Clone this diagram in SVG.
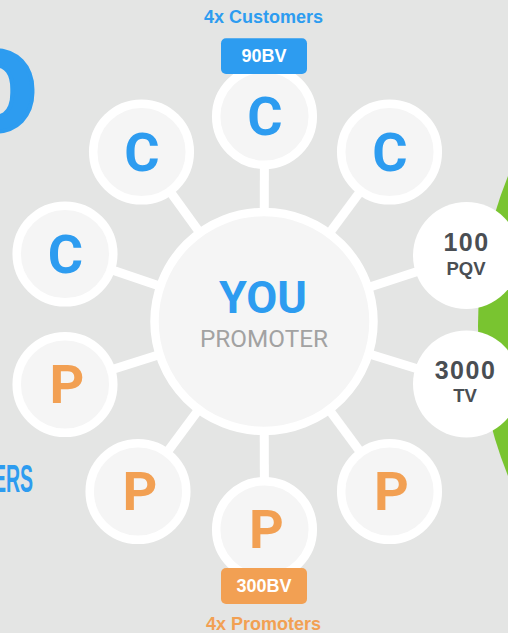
<svg xmlns="http://www.w3.org/2000/svg" width="508" height="633" viewBox="0 0 508 633">
<style>
.node{fill:#f5f5f5;stroke:#ffffff;stroke-width:8.5}
.stat{fill:#ffffff}
.cl{font-family:Roboto,"Liberation Sans",sans-serif;font-weight:700;font-size:54px;text-anchor:middle}
.c{fill:#2d9cf0}
.p{fill:#f2a053}
.lab{font-family:"Liberation Sans",Arial,sans-serif;font-weight:700;text-anchor:middle}
.num{fill:#4a4e53;font-size:25px;letter-spacing:1.5px}
.unit{fill:#4a4e53;font-size:18.5px}
.badge{fill:#ffffff;font-size:18px}
.conn line{stroke:#ffffff;stroke-width:9}
</style>
<rect width="508" height="633" fill="#e4e5e4"/>
<path d="M508 176 Q448 326 508 476 Z" fill="#79c430"/>
<text x="-38" y="132" font-family="Roboto,'Liberation Sans',sans-serif" font-weight="900" font-size="115" fill="#2d9cf0" stroke="#2d9cf0" stroke-width="4">D</text>
<text transform="scale(0.5,1)" x="66" y="492.5" font-family="'Liberation Sans',Arial,sans-serif" font-weight="700" font-size="39" fill="#2d9cf0" text-anchor="end">ERS</text>

<g id="connectors" class="conn">
<line x1="264" y1="321.5" x2="264.5" y2="116.5"/>
<line x1="264" y1="321.5" x2="141.5" y2="152"/>
<line x1="264" y1="321.5" x2="389.5" y2="152"/>
<line x1="264" y1="321.5" x2="65" y2="254"/>
<line x1="264" y1="321.5" x2="65" y2="384.5"/>
<line x1="264" y1="321.5" x2="138" y2="491.5"/>
<line x1="264" y1="321.5" x2="389.5" y2="491.5"/>
<line x1="264" y1="321.5" x2="264.5" y2="529.5"/>
<line x1="264" y1="321.5" x2="466.5" y2="255.5"/>
<line x1="264" y1="321.5" x2="466.5" y2="384"/>
</g>

<g id="you">
<circle class="node" cx="264" cy="321.5" r="109.5" stroke-width="9"/>
<text x="263" y="312.5" font-family="Roboto,'Liberation Sans',sans-serif" font-weight="700" font-size="45" fill="#2d9cf0" text-anchor="middle">YOU</text>
<text x="264" y="347.3" font-family="Roboto,'Liberation Sans',sans-serif" font-size="24.3" fill="#a2a2a2" text-anchor="middle">PROMOTER</text>
</g>

<g id="c-top"><circle class="node" cx="264.5" cy="116.5" r="48.3"/><text class="cl c" x="265" y="134.5">C</text></g>
<g id="c-upper-left"><circle class="node" cx="141.5" cy="152" r="48.3"/><text class="cl c" x="142" y="170.5">C</text></g>
<g id="c-upper-right"><circle class="node" cx="389.5" cy="152" r="48.3"/><text class="cl c" x="390" y="170.5">C</text></g>
<g id="c-left"><circle class="node" cx="65" cy="254" r="48.3"/><text class="cl c" x="65.5" y="273">C</text></g>
<g id="p-left"><circle class="node" cx="65" cy="384.5" r="48.3"/><text class="cl p" x="67" y="402.5">P</text></g>
<g id="p-lower-left"><circle class="node" cx="138" cy="491.5" r="48.3"/><text class="cl p" x="140" y="509.5">P</text></g>
<g id="p-lower-right"><circle class="node" cx="389.5" cy="491.5" r="48.3"/><text class="cl p" x="391.5" y="509.5">P</text></g>
<g id="p-bottom"><circle class="node" cx="264.5" cy="529.5" r="48.3"/><text class="cl p" x="266.5" y="548">P</text></g>

<g id="pqv"><circle class="stat" cx="466.5" cy="255.5" r="53.5"/>
<text class="lab num" x="466.5" y="251.3">100</text>
<text class="lab unit" x="466" y="275">PQV</text></g>
<g id="tv"><circle class="stat" cx="466.5" cy="384" r="53.5"/>
<text class="lab num" x="465.5" y="379">3000</text>
<text class="lab unit" x="465" y="401.7">TV</text></g>

<g id="badge-90bv"><rect x="221" y="38.3" width="86" height="35.7" rx="5" fill="#2d9cf0"/><text class="lab badge" x="264" y="62.3">90BV</text></g>
<g id="badge-300bv"><rect x="221" y="568" width="86" height="36" rx="5" fill="#f2a053"/><text class="lab badge" x="264" y="591.7">300BV</text></g>

<g id="label-customers"><text class="lab" x="263.5" y="23.3" font-size="18" fill="#2d9cf0">4x Customers</text></g>
<g id="label-promoters"><text class="lab" x="263.5" y="629.8" font-size="18" fill="#f2a053">4x Promoters</text></g>
</svg>
